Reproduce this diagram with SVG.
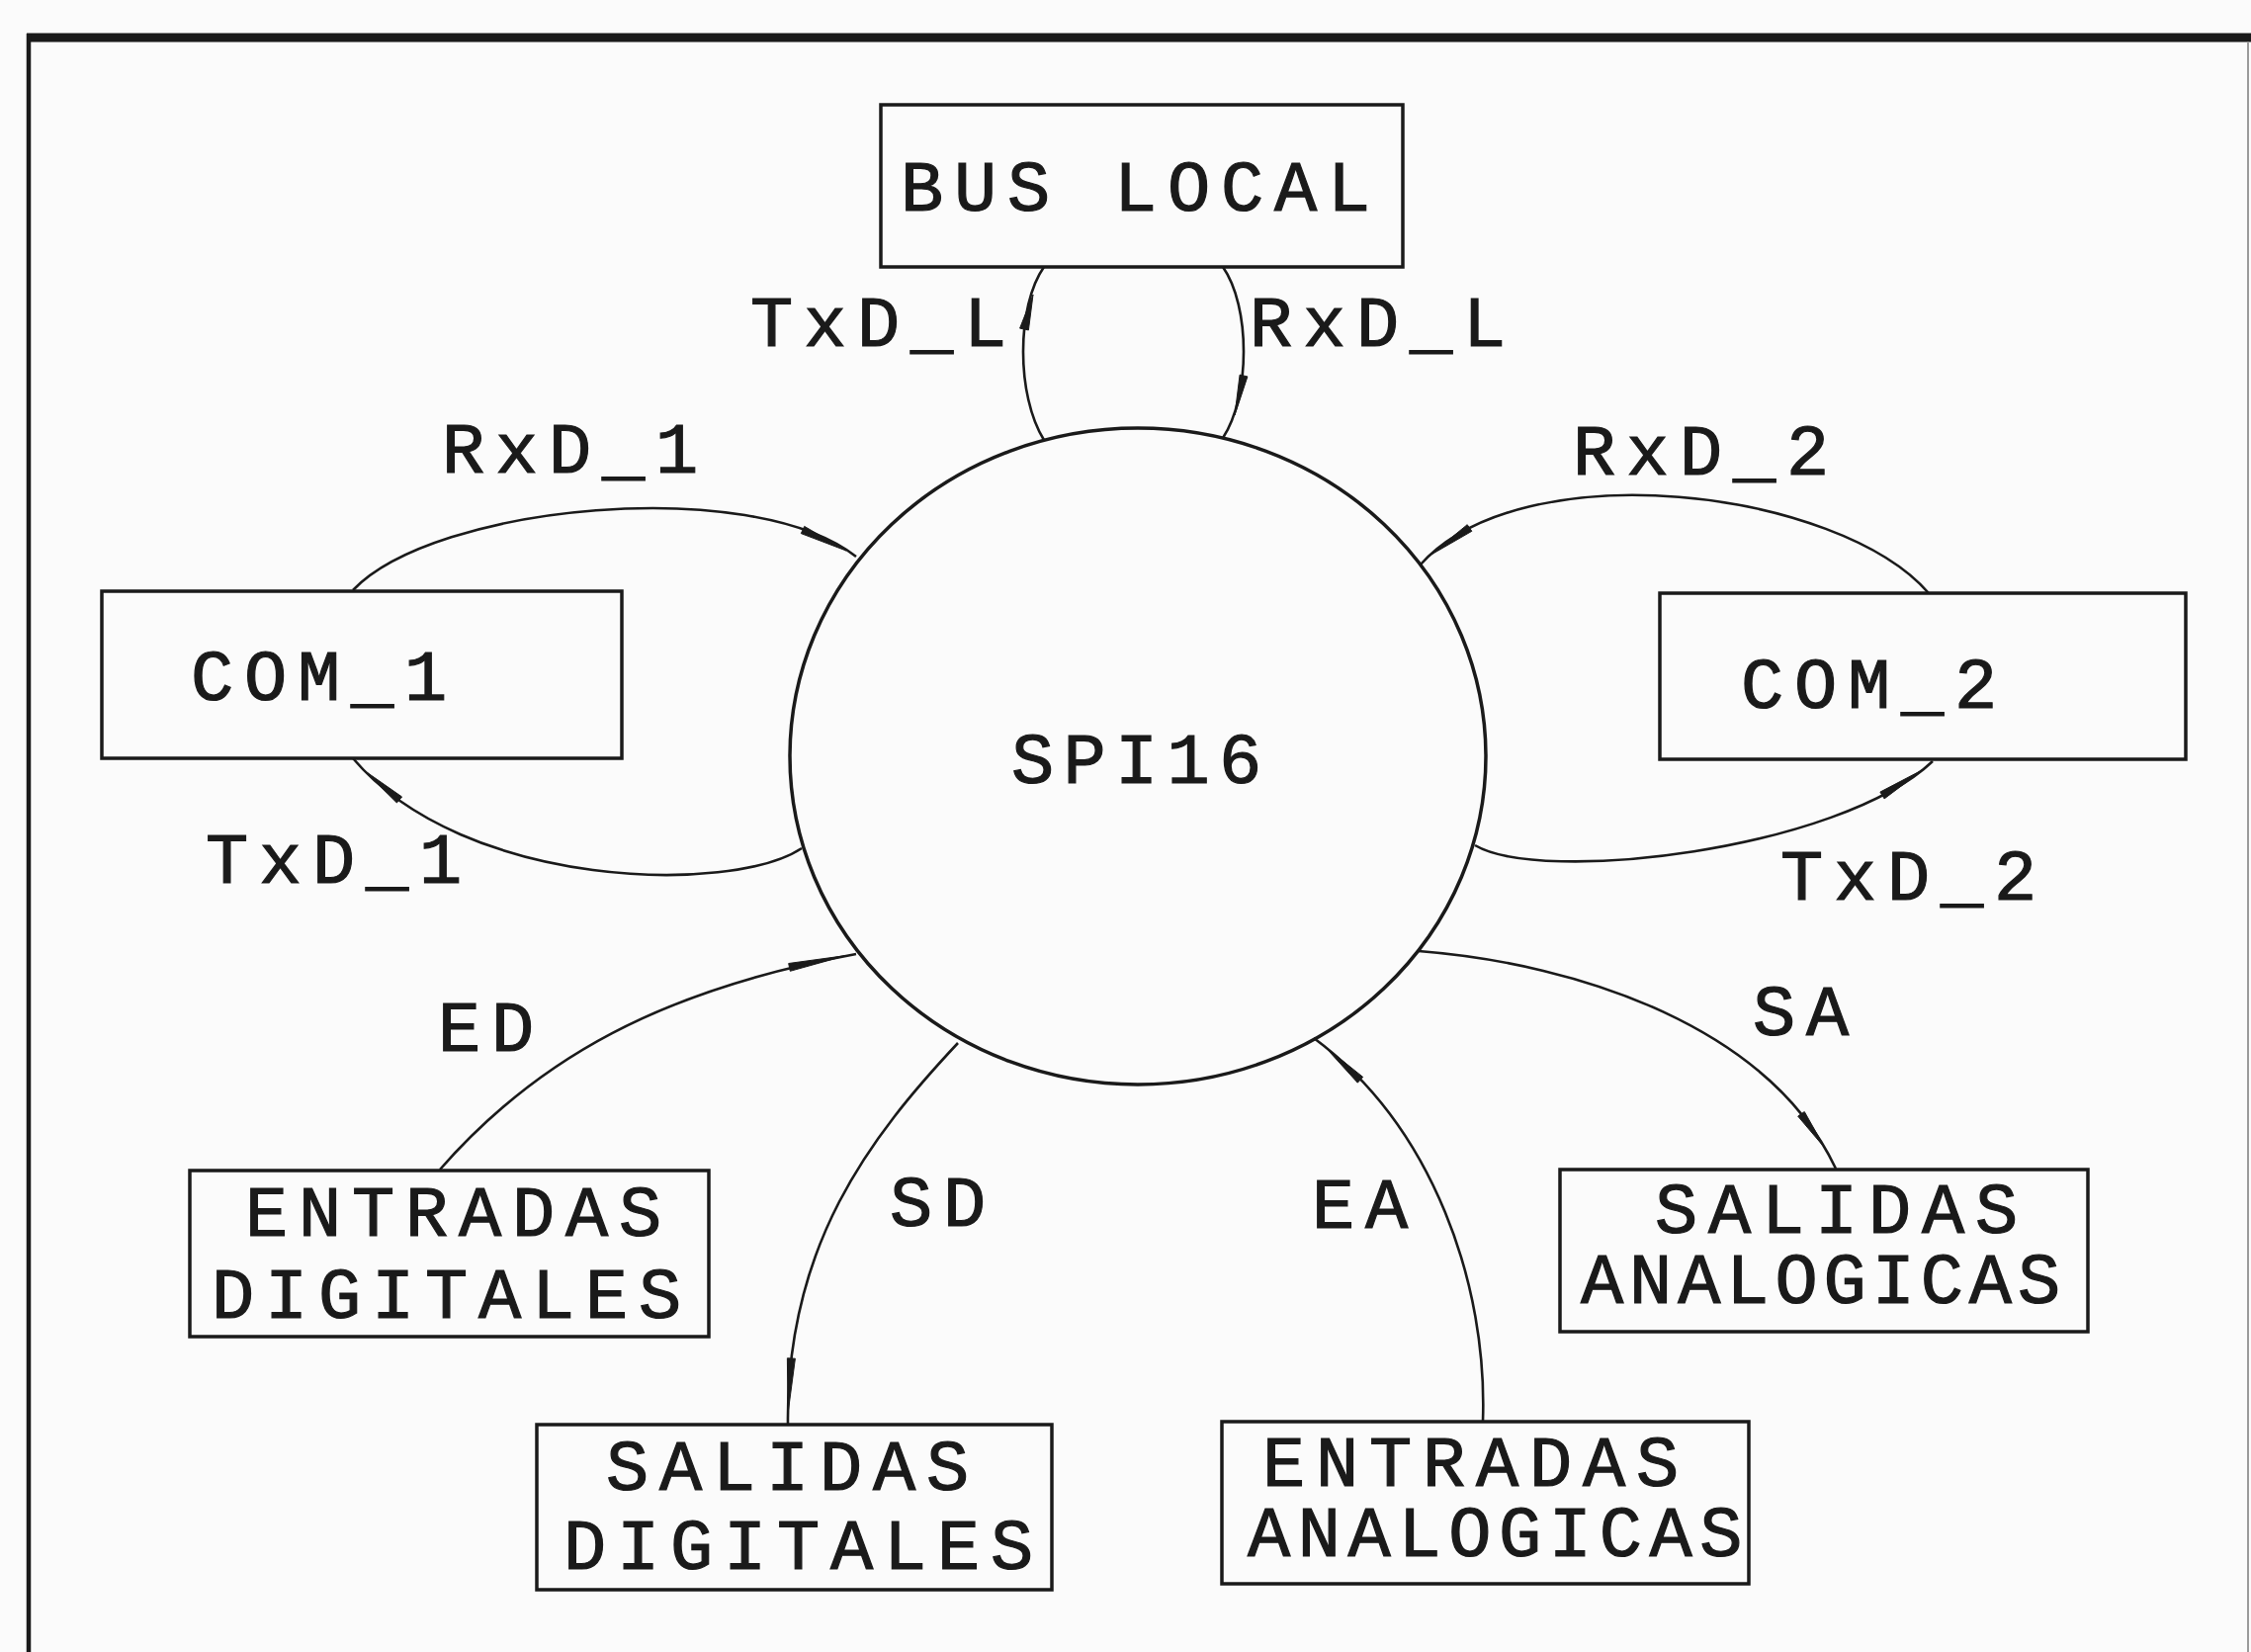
<svg xmlns="http://www.w3.org/2000/svg" width="2277" height="1671" viewBox="0 0 2277 1671">
<style>
.t{font-family:"Liberation Mono","DejaVu Sans Mono",monospace;font-size:72px;fill:#1a1a1a;stroke:#1a1a1a;stroke-width:1.2px;letter-spacing:10.8px}
.box{fill:none;stroke:#1a1a1a;stroke-width:3.5}
.c{fill:none;stroke:#1a1a1a;stroke-width:2.6}
.ah{fill:#1a1a1a;stroke:#1a1a1a;stroke-width:1}
</style>
<rect x="0" y="0" width="2277" height="1671" fill="#fbfbfb"/>
<g id="frame">
<line x1="27" y1="38" x2="2277" y2="38" stroke="#1a1a1a" stroke-width="9"/>
<line x1="29" y1="34" x2="29" y2="1671" stroke="#1a1a1a" stroke-width="4.5"/>
<line x1="2274" y1="42" x2="2274" y2="1671" stroke="#9a9a9a" stroke-width="2"/>
</g>
<g id="connectors">
<path class="c" d="M1056,445 C1028,400 1028,310 1056,270"/>
<polygon class="ah" points="1045,298 1040.4,333.9 1031.6,332.1"/>
<path class="c" d="M1237,270 C1265,310 1265,400 1237,443"/>
<polygon class="ah" points="1249,420 1254.1,379.1 1261.9,380.9"/>
<path class="c" d="M357,597 C440,510 760,480 866,563"/>
<polygon class="ah" points="856,557 810.3,539.6 813.7,532.4"/>
<path class="c" d="M811,858 C740,905 470,900 357,767"/>
<polygon class="ah" points="368,779 406.6,806 401.4,812"/>
<path class="c" d="M1951,600 C1860,495 1540,455 1436,572"/>
<polygon class="ah" points="1446,562 1484.2,530.7 1488.8,537.3"/>
<path class="c" d="M1492,855 C1560,895 1860,860 1955,770"/>
<polygon class="ah" points="1946,778 1906.1,807.9 1901.9,801.1"/>
<path class="c" d="M445,1183 C544,1070 670,1001 866,965"/>
<polygon class="ah" points="856,966.5 799.3,982.3 797.7,974.5"/>
<path class="c" d="M969,1055 C880,1150 795,1260 797,1441"/>
<polygon class="ah" points="797,1430 796.4,1373.8 804.4,1374.2"/>
<path class="c" d="M1435,962 C1600,975 1790,1040 1857,1182"/>
<polygon class="ah" points="1846,1161.3 1818.7,1129.1 1825.3,1124.5"/>
<path class="c" d="M1500,1438 C1505,1300 1450,1140 1329,1050"/>
<polygon class="ah" points="1339.7,1058.2 1378.7,1089.4 1373.3,1095.2"/>
</g>
<g id="labels">
<text class="t" x="759" y="350">TxD_L</text>
<text class="t" x="1264" y="350">RxD_L</text>
<text class="t" x="447" y="478">RxD_1</text>
<text class="t" x="1591" y="480">RxD_2</text>
<text class="t" x="208" y="893">TxD_1</text>
<text class="t" x="1801" y="910">TxD_2</text>
<text class="t" x="443" y="1063">ED</text>
<text class="t" x="1773" y="1047">SA</text>
<text class="t" x="900" y="1240">SD</text>
<text class="t" x="1327" y="1242">EA</text>
</g>
<g id="spi16">
<ellipse class="box" cx="1151" cy="765" rx="352" ry="332"/>
<text class="t" x="1023" y="792" style="letter-spacing:9.3px">SPI16</text>
</g>
<g id="bus-local">
<rect class="box" x="891" y="106" width="528" height="164"/>
<text class="t" x="911" y="213">BUS LOCAL</text>
</g>
<g id="com1">
<rect class="box" x="103" y="598" width="526" height="169"/>
<text class="t" x="193" y="708">COM_1</text>
</g>
<g id="com2">
<rect class="box" x="1679" y="600" width="532" height="168"/>
<text class="t" x="1761" y="716">COM_2</text>
</g>
<g id="entradas-digitales">
<rect class="box" x="192" y="1184" width="525" height="168"/>
<text class="t"><tspan x="248" y="1250">ENTRADAS</tspan><tspan x="214" y="1333">DIGITALES</tspan></text>
</g>
<g id="salidas-digitales">
<rect class="box" x="543" y="1441" width="521" height="167"/>
<text class="t"><tspan x="613" y="1507">SALIDAS</tspan><tspan x="570" y="1587">DIGITALES</tspan></text>
</g>
<g id="entradas-analogicas">
<rect class="box" x="1236" y="1438" width="533" height="164"/>
<text class="t"><tspan x="1277" y="1503">ENTRADAS</tspan><tspan x="1262" y="1574" style="letter-spacing:7.6px">ANALOGICAS</tspan></text>
</g>
<g id="salidas-analogicas">
<rect class="box" x="1578" y="1183" width="534" height="164"/>
<text class="t"><tspan x="1674" y="1247">SALIDAS</tspan><tspan x="1599" y="1318" style="letter-spacing:5.9px">ANALOGICAS</tspan></text>
</g>
</svg>
